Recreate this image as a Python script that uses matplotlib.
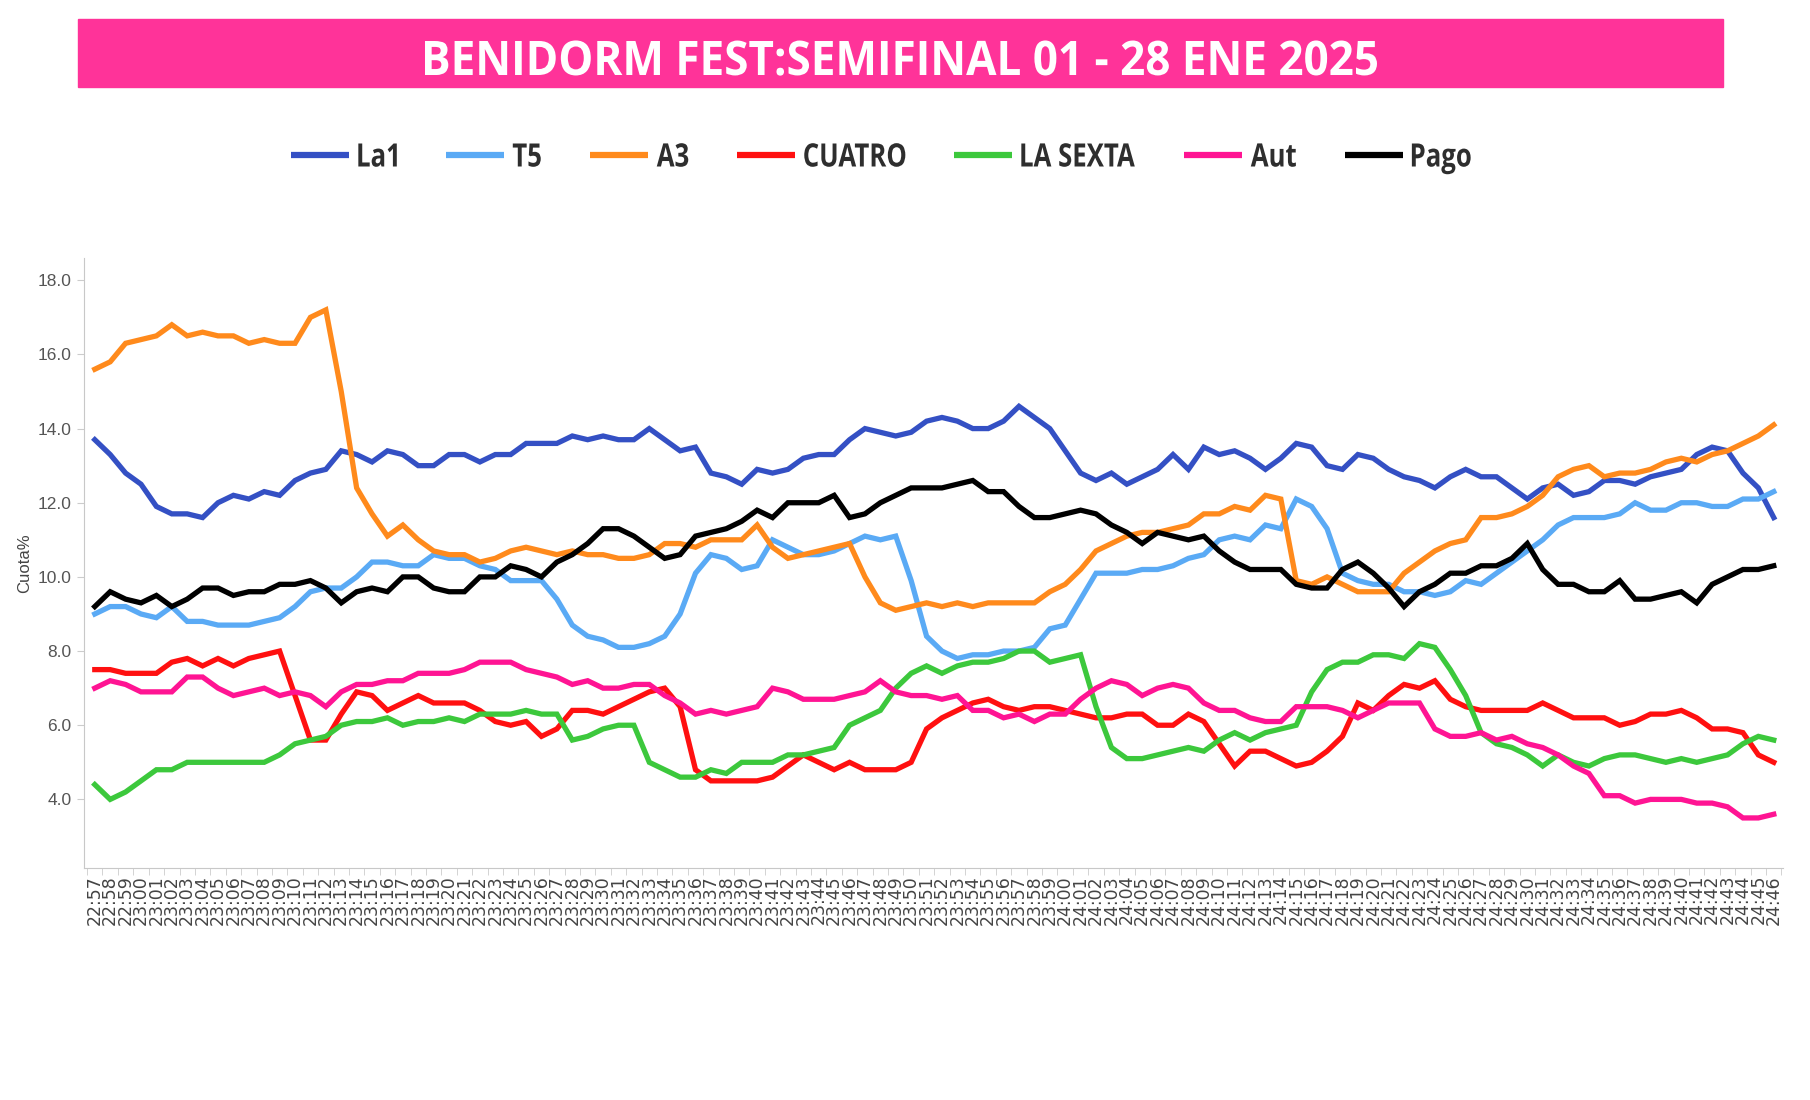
import matplotlib.pyplot as plt
from matplotlib.patches import Rectangle, PathPatch
from matplotlib.lines import Line2D
from matplotlib.textpath import TextPath
from matplotlib.font_manager import FontProperties
from matplotlib.transforms import Affine2D, IdentityTransform
from matplotlib.ticker import FixedLocator, NullFormatter

# minutos 22:57 -> 24:46
minutos = [f"{(22 * 60 + 57 + k) // 60}:{(22 * 60 + 57 + k) % 60:02d}" for k in range(110)]

la1 = [13.7, 13.3, 12.8, 12.5, 11.9, 11.7, 11.7, 11.6, 12.0, 12.2, 12.1, 12.3, 12.2, 12.6, 12.8, 12.9, 13.4, 13.3, 13.1, 13.4,
       13.3, 13.0, 13.0, 13.3, 13.3, 13.1, 13.3, 13.3, 13.6, 13.6, 13.6, 13.8, 13.7, 13.8, 13.7, 13.7, 14.0, 13.7, 13.4, 13.5,
       12.8, 12.7, 12.5, 12.9, 12.8, 12.9, 13.2, 13.3, 13.3, 13.7, 14.0, 13.9, 13.8, 13.9, 14.2, 14.3, 14.2, 14.0, 14.0, 14.2,
       14.6, 14.3, 14.0, 13.4, 12.8, 12.6, 12.8, 12.5, 12.7, 12.9, 13.3, 12.9, 13.5, 13.3, 13.4, 13.2, 12.9, 13.2, 13.6, 13.5,
       13.0, 12.9, 13.3, 13.2, 12.9, 12.7, 12.6, 12.4, 12.7, 12.9, 12.7, 12.7, 12.4, 12.1, 12.4, 12.5, 12.2, 12.3, 12.6, 12.6,
       12.5, 12.7, 12.8, 12.9, 13.3, 13.5, 13.4, 12.8, 12.4, 11.6]
t5 = [9.0, 9.2, 9.2, 9.0, 8.9, 9.2, 8.8, 8.8, 8.7, 8.7, 8.7, 8.8, 8.9, 9.2, 9.6, 9.7, 9.7, 10.0, 10.4, 10.4,
      10.3, 10.3, 10.6, 10.5, 10.5, 10.3, 10.2, 9.9, 9.9, 9.9, 9.4, 8.7, 8.4, 8.3, 8.1, 8.1, 8.2, 8.4, 9.0, 10.1,
      10.6, 10.5, 10.2, 10.3, 11.0, 10.8, 10.6, 10.6, 10.7, 10.9, 11.1, 11.0, 11.1, 9.9, 8.4, 8.0, 7.8, 7.9, 7.9, 8.0,
      8.0, 8.1, 8.6, 8.7, 9.4, 10.1, 10.1, 10.1, 10.2, 10.2, 10.3, 10.5, 10.6, 11.0, 11.1, 11.0, 11.4, 11.3, 12.1, 11.9,
      11.3, 10.1, 9.9, 9.8, 9.8, 9.6, 9.6, 9.5, 9.6, 9.9, 9.8, 10.1, 10.4, 10.7, 11.0, 11.4, 11.6, 11.6, 11.6, 11.7,
      12.0, 11.8, 11.8, 12.0, 12.0, 11.9, 11.9, 12.1, 12.1, 12.3]
a3 = [15.6, 15.8, 16.3, 16.4, 16.5, 16.8, 16.5, 16.6, 16.5, 16.5, 16.3, 16.4, 16.3, 16.3, 17.0, 17.2, 15.0, 12.4, 11.7, 11.1,
      11.4, 11.0, 10.7, 10.6, 10.6, 10.4, 10.5, 10.7, 10.8, 10.7, 10.6, 10.7, 10.6, 10.6, 10.5, 10.5, 10.6, 10.9, 10.9, 10.8,
      11.0, 11.0, 11.0, 11.4, 10.8, 10.5, 10.6, 10.7, 10.8, 10.9, 10.0, 9.3, 9.1, 9.2, 9.3, 9.2, 9.3, 9.2, 9.3, 9.3,
      9.3, 9.3, 9.6, 9.8, 10.2, 10.7, 10.9, 11.1, 11.2, 11.2, 11.3, 11.4, 11.7, 11.7, 11.9, 11.8, 12.2, 12.1, 9.9, 9.8,
      10.0, 9.8, 9.6, 9.6, 9.6, 10.1, 10.4, 10.7, 10.9, 11.0, 11.6, 11.6, 11.7, 11.9, 12.2, 12.7, 12.9, 13.0, 12.7, 12.8,
      12.8, 12.9, 13.1, 13.2, 13.1, 13.3, 13.4, 13.6, 13.8, 14.1]
cuatro = [7.5, 7.5, 7.4, 7.4, 7.4, 7.7, 7.8, 7.6, 7.8, 7.6, 7.8, 7.9, 8.0, 6.8, 5.6, 5.6, 6.3, 6.9, 6.8, 6.4,
          6.6, 6.8, 6.6, 6.6, 6.6, 6.4, 6.1, 6.0, 6.1, 5.7, 5.9, 6.4, 6.4, 6.3, 6.5, 6.7, 6.9, 7.0, 6.5, 4.8,
          4.5, 4.5, 4.5, 4.5, 4.6, 4.9, 5.2, 5.0, 4.8, 5.0, 4.8, 4.8, 4.8, 5.0, 5.9, 6.2, 6.4, 6.6, 6.7, 6.5,
          6.4, 6.5, 6.5, 6.4, 6.3, 6.2, 6.2, 6.3, 6.3, 6.0, 6.0, 6.3, 6.1, 5.5, 4.9, 5.3, 5.3, 5.1, 4.9, 5.0,
          5.3, 5.7, 6.6, 6.4, 6.8, 7.1, 7.0, 7.2, 6.7, 6.5, 6.4, 6.4, 6.4, 6.4, 6.6, 6.4, 6.2, 6.2, 6.2, 6.0,
          6.1, 6.3, 6.3, 6.4, 6.2, 5.9, 5.9, 5.8, 5.2, 5.0]
la_sexta = [4.4, 4.0, 4.2, 4.5, 4.8, 4.8, 5.0, 5.0, 5.0, 5.0, 5.0, 5.0, 5.2, 5.5, 5.6, 5.7, 6.0, 6.1, 6.1, 6.2,
            6.0, 6.1, 6.1, 6.2, 6.1, 6.3, 6.3, 6.3, 6.4, 6.3, 6.3, 5.6, 5.7, 5.9, 6.0, 6.0, 5.0, 4.8, 4.6, 4.6,
            4.8, 4.7, 5.0, 5.0, 5.0, 5.2, 5.2, 5.3, 5.4, 6.0, 6.2, 6.4, 7.0, 7.4, 7.6, 7.4, 7.6, 7.7, 7.7, 7.8,
            8.0, 8.0, 7.7, 7.8, 7.9, 6.5, 5.4, 5.1, 5.1, 5.2, 5.3, 5.4, 5.3, 5.6, 5.8, 5.6, 5.8, 5.9, 6.0, 6.9,
            7.5, 7.7, 7.7, 7.9, 7.9, 7.8, 8.2, 8.1, 7.5, 6.8, 5.8, 5.5, 5.4, 5.2, 4.9, 5.2, 5.0, 4.9, 5.1, 5.2,
            5.2, 5.1, 5.0, 5.1, 5.0, 5.1, 5.2, 5.5, 5.7, 5.6]
aut = [7.0, 7.2, 7.1, 6.9, 6.9, 6.9, 7.3, 7.3, 7.0, 6.8, 6.9, 7.0, 6.8, 6.9, 6.8, 6.5, 6.9, 7.1, 7.1, 7.2,
       7.2, 7.4, 7.4, 7.4, 7.5, 7.7, 7.7, 7.7, 7.5, 7.4, 7.3, 7.1, 7.2, 7.0, 7.0, 7.1, 7.1, 6.8, 6.6, 6.3,
       6.4, 6.3, 6.4, 6.5, 7.0, 6.9, 6.7, 6.7, 6.7, 6.8, 6.9, 7.2, 6.9, 6.8, 6.8, 6.7, 6.8, 6.4, 6.4, 6.2,
       6.3, 6.1, 6.3, 6.3, 6.7, 7.0, 7.2, 7.1, 6.8, 7.0, 7.1, 7.0, 6.6, 6.4, 6.4, 6.2, 6.1, 6.1, 6.5, 6.5,
       6.5, 6.4, 6.2, 6.4, 6.6, 6.6, 6.6, 5.9, 5.7, 5.7, 5.8, 5.6, 5.7, 5.5, 5.4, 5.2, 4.9, 4.7, 4.1, 4.1,
       3.9, 4.0, 4.0, 4.0, 3.9, 3.9, 3.8, 3.5, 3.5, 3.6]
pago = [9.2, 9.6, 9.4, 9.3, 9.5, 9.2, 9.4, 9.7, 9.7, 9.5, 9.6, 9.6, 9.8, 9.8, 9.9, 9.7, 9.3, 9.6, 9.7, 9.6,
        10.0, 10.0, 9.7, 9.6, 9.6, 10.0, 10.0, 10.3, 10.2, 10.0, 10.4, 10.6, 10.9, 11.3, 11.3, 11.1, 10.8, 10.5, 10.6, 11.1,
        11.2, 11.3, 11.5, 11.8, 11.6, 12.0, 12.0, 12.0, 12.2, 11.6, 11.7, 12.0, 12.2, 12.4, 12.4, 12.4, 12.5, 12.6, 12.3, 12.3,
        11.9, 11.6, 11.6, 11.7, 11.8, 11.7, 11.4, 11.2, 10.9, 11.2, 11.1, 11.0, 11.1, 10.7, 10.4, 10.2, 10.2, 10.2, 9.8, 9.7,
        9.7, 10.2, 10.4, 10.1, 9.7, 9.2, 9.6, 9.8, 10.1, 10.1, 10.3, 10.3, 10.5, 10.9, 10.2, 9.8, 9.8, 9.6, 9.6, 9.9,
        9.4, 9.4, 9.5, 9.6, 9.3, 9.8, 10.0, 10.2, 10.2, 10.3]

series = ["La1", "T5", "A3", "CUATRO", "LA SEXTA", "Aut", "Pago"]
valores = [la1, t5, a3, cuatro, la_sexta, aut, pago]
colores = ["#3450C4", "#5AAAF5", "#FF8A1C", "#FF1010", "#3CC83C", "#FF1493", "#000000"]

W, H = 1810, 1100
fig = plt.figure(figsize=(W / 100, H / 100), dpi=100)
fig.patch.set_facecolor("white")

fp_bold = FontProperties(family="Open Sans", weight="bold")
cap100 = TextPath((0, 0), "H", size=100, prop=fp_bold).get_extents().height


def texto_estrecho(s, x, y, cap_px, squeeze, color, ancho=None, ha="left"):
    # texto condensado: se dibuja como trayecto escalado en pixeles
    tp = TextPath((0, 0), s, size=100, prop=fp_bold)
    ext = tp.get_extents()
    k = cap_px / cap100
    sx = k * squeeze
    if ancho is not None:
        sx = ancho / ext.width
    w = ext.width * sx
    x0 = x - w / 2 if ha == "center" else x
    tr = Affine2D().translate(-ext.x0, 0).scale(sx, k).translate(x0, y - cap_px / 2)
    fig.patches.append(PathPatch(tr.transform_path(tp), transform=IdentityTransform(),
                                 facecolor=color, edgecolor="none", lw=0))
    return w


def medir(s, cap_px, squeeze):
    ext = TextPath((0, 0), s, size=100, prop=fp_bold).get_extents()
    return ext.width * cap_px / cap100 * squeeze


# banda del titulo
fig.patches.append(Rectangle((78 / W, 1 - 87 / H), 1645 / W, 68 / H,
                             transform=fig.transFigure, color="#FF3399", zorder=0))
texto_estrecho("BENIDORM FEST:SEMIFINAL 01 - 28 ENE 2025", 901, H - 58, 34, 1.0, "white",
               ancho=952, ha="center")

ax = fig.add_axes([84 / W, 232 / H, 1699 / W, 610 / H])
x = list(range(len(minutos)))
for nombre, v, c in zip(series, valores, colores):
    ax.plot(x, v, color=c, lw=3.8, label=nombre, solid_joinstyle="miter")

ax.set_xlim(-0.7, 109.6)
ax.set_ylim(2.15, 18.6)
ax.set_yticks([4, 6, 8, 10, 12, 14, 16, 18])
ax.set_yticklabels([f"{t:.1f}" for t in [4, 6, 8, 10, 12, 14, 16, 18]],
                   fontsize=12.5, color="#555555", family="Liberation Sans")
ax.set_xticks(x)
ax.set_xticklabels(minutos, rotation=90, fontsize=12.5, color="#444444", family="DejaVu Sans")
ax.tick_params(axis="x", which="major", length=0, pad=5)
ax.xaxis.set_minor_locator(FixedLocator([k + 0.5 for k in range(-1, 110)]))
ax.xaxis.set_minor_formatter(NullFormatter())
ax.tick_params(axis="x", which="minor", length=5, color="#cccccc")
ax.tick_params(axis="y", length=5, color="#cccccc", pad=4)
for s in ["top", "right"]:
    ax.spines[s].set_visible(False)
ax.spines["left"].set_color("#c8c8c8")
ax.spines["bottom"].set_color("#c8c8c8")
ax.set_ylabel("Cuota%", fontsize=12, color="#444444", labelpad=4, family="Liberation Sans")

# leyenda manual con texto condensado
cap_ley, sq_ley = 23, 0.8
largo, hueco, sep = 58, 9, 49
total = sum(largo + hueco + medir(n, cap_ley, sq_ley) for n in series) + sep * (len(series) - 1)
xl = 881 - total / 2
yl = H - 155
for nombre, c in zip(series, colores):
    fig.lines.append(Line2D([xl, xl + largo], [yl, yl], color=c, lw=4.5,
                            transform=IdentityTransform(), solid_capstyle="butt"))
    w = texto_estrecho(nombre, xl + largo + hueco, yl, cap_ley, sq_ley, "#2e2e2e")
    xl += largo + hueco + w + sep

fig.savefig("out.png", dpi=100)
